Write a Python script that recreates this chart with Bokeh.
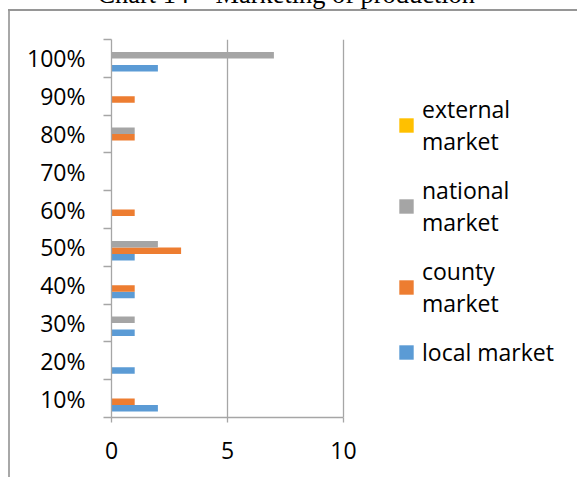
from bokeh.plotting import figure
from bokeh.models import (FactorRange, Range1d, LinearAxis, CategoricalAxis, FixedTicker,
                          Legend, LegendItem, ColumnDataSource)
from bokeh.transform import dodge
from bokeh.embed import file_html
from bokeh.resources import INLINE

# ---- data ----
categories = ["10%", "20%", "30%", "40%", "50%", "60%", "70%", "80%", "90%", "100%"]
local_market = [2, 1, 1, 1, 1, 0, 0, 0, 0, 2]
county_market = [1, 0, 0, 1, 3, 1, 0, 1, 1, 0]
national_market = [0, 0, 1, 0, 2, 0, 0, 1, 0, 7]
external_market = [0, 0, 0, 0, 0, 0, 0, 0, 0, 0]
series_keys = ["local", "county", "national", "external"]
legend_labels = ["local market", "county\nmarket", "national\nmarket", "external\nmarket"]
series_colors = ["#5B9BD5", "#ED7D31", "#A5A5A5", "#FFC000"]
x_ticks = [0, 5, 10]
x_max = 10
title_text = "Chart 14 \u2013 Marketing of production"

source = ColumnDataSource(data=dict(cat=categories, local=local_market, county=county_market,
                                    national=national_market, external=external_market))

FONT = "Open Sans"
FS = "23px"
AXIS_GREY = "#a6a6a6"
SHIFT = 56  # canvas extends above the visible page (title is cut off as in the original)

# layout (pixels): plot area from x=111 to x=343 holds 0..10; the canvas continues to 577
W, H = 577, 477
FRAME_L, FRAME_R_AXIS = 111, 343
x_end = x_max * (W - FRAME_L) / (FRAME_R_AXIS - FRAME_L)

chart_border = ("linear-gradient(#969696,#969696) 8px %dpx / calc(100%% - 8px) 2px no-repeat, "
                "linear-gradient(#a8a8a8,#a8a8a8) 8px %dpx / 2px calc(100%% - %dpx) no-repeat"
                % (9 + SHIFT, 9 + SHIFT, 9 + SHIFT))

p = figure(width=W, height=H + SHIFT, y_range=FactorRange(factors=categories),
           x_range=Range1d(0, x_end), output_backend="svg", toolbar_location=None,
           x_axis_location=None, y_axis_location=None,
           min_border_left=FRAME_L, min_border_right=0, min_border_top=39 + SHIFT,
           min_border_bottom=60, margin=(-SHIFT, 0, 0, 0),
           styles={"background": chart_border})
p.outline_line_color = None
p.background_fill_color = None
p.border_fill_color = None
p.ygrid.visible = False
p.xgrid.ticker = FixedTicker(ticks=[5, 10])
p.xgrid.grid_line_color = AXIS_GREY
p.xgrid.grid_line_width = 1.3

# title
p.title.text = title_text
p.title.text_font = "Liberation Serif"
p.title.text_font_size = "26.4px"
p.title.text_font_style = "normal"
p.title.text_color = "black"
p.title.align = "left"
p.title.offset = -14
p.title.vertical_align = "bottom"
p.title.standoff = 62

# bars
offsets = [-0.258, -0.086, 0.086, 0.258]
renderers = []
for key, col, off in zip(series_keys, series_colors, offsets):
    r = p.hbar(y=dodge("cat", off, range=p.y_range), left=0, right=key, height=0.172,
               source=source, fill_color=col, line_color=None)
    renderers.append(r)

# x axis
xaxis = LinearAxis(ticker=FixedTicker(ticks=x_ticks), bounds=(0, x_max),
                   major_tick_out=5, major_tick_in=0,
                   minor_tick_line_color=None, axis_line_color=AXIS_GREY, axis_line_width=1.3,
                   major_tick_line_color=AXIS_GREY, major_tick_line_width=1.3,
                   major_label_text_font=FONT, major_label_text_font_size=FS,
                   major_label_text_color="black", major_label_standoff=19)
p.add_layout(xaxis, "below")

# y axis: tick marks between categories (synthetic category boundaries)
tick_axis = LinearAxis(ticker=FixedTicker(ticks=list(range(len(categories) + 1))),
                       major_tick_out=8, major_tick_in=0, minor_tick_line_color=None,
                       axis_line_color=AXIS_GREY, axis_line_width=1.3,
                       major_tick_line_color=AXIS_GREY, major_tick_line_width=1.3,
                       major_label_text_font_size="1px", major_label_text_alpha=0,
                       major_label_standoff=0)
p.add_layout(tick_axis, "left")
cat_axis = CategoricalAxis(axis_line_color=None, major_tick_line_color=None,
                           minor_tick_line_color=None,
                           major_label_text_font=FONT, major_label_text_font_size=FS,
                           major_label_text_color="black", major_label_standoff=12)
p.add_layout(cat_axis, "left")

# legend (top to bottom: external, national, county, local)
items = [LegendItem(label=legend_labels[i], renderers=[renderers[i]]) for i in [3, 2, 1, 0]]
legend = Legend(items=items, location=(286, 49), label_text_font=FONT,
                label_text_font_size=FS, label_text_color="black",
                label_text_line_height=1.42, glyph_width=18, glyph_height=18,
                label_standoff=7, spacing=17, padding=0, margin=0,
                border_line_color=None, background_fill_alpha=0)
p.add_layout(legend)

open("out.html", "w").write(file_html(p, INLINE))
